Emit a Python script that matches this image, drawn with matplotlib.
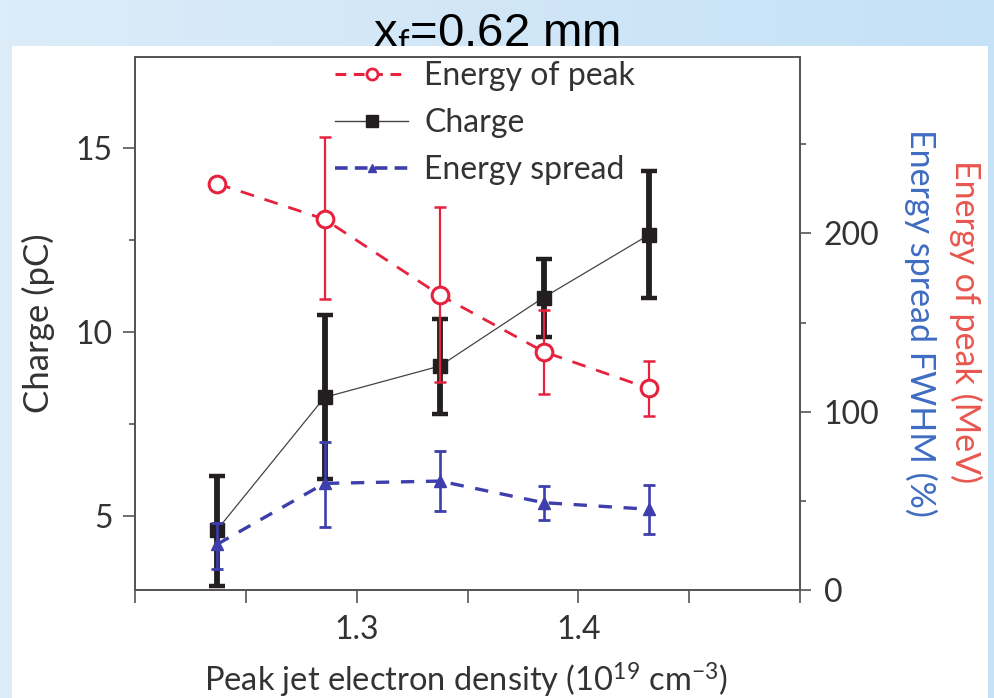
import matplotlib
matplotlib.use("Agg")
import matplotlib.pyplot as plt
import numpy as np
from matplotlib.patches import Rectangle
from matplotlib.lines import Line2D
from matplotlib.ticker import FixedLocator, FuncFormatter
from matplotlib.colors import LinearSegmentedColormap

# ---------------- data ----------------
density = [1.237, 1.2855, 1.3375, 1.3843, 1.4318]

charge = [4.62, 8.22, 9.07, 10.93, 12.63]
charge_low = [3.11, 6.00, 7.77, 9.85, 10.92]
charge_high = [6.09, 10.45, 10.36, 11.98, 14.36]

peak_energy = [228.0, 208.0, 165.5, 133.7, 113.1]
peak_low = [226.5, 163.0, 116.5, 109.8, 97.8]
peak_high = [229.5, 254.0, 215.0, 157.0, 128.6]

spread = [25.6, 59.8, 61.1, 49.0, 45.3]
spread_low = [11.8, 35.5, 44.3, 39.3, 31.4]
spread_high = [37.7, 83.0, 78.1, 58.3, 58.9]

x_ticks = [1.2, 1.25, 1.3, 1.35, 1.4, 1.45, 1.5]
x_labeled = [1.3, 1.4]
left_major = [5, 10, 15]
left_minor = [7.5, 12.5]
right_major = [0, 100, 200]
right_minor = [50, 150, 250]

title = "x$_\\mathrm{f}$=0.62 mm"
xlabel = "Peak jet electron density (10$^{19}$ cm$^{-3}$)"
ylabel_left = "Charge (pC)"
ylabel_right_red = "Energy of peak (MeV)"
ylabel_right_blue = "Energy spread FWHM (%)"
legend_labels = ["Energy of peak", "Charge", "Energy spread"]

# ---------------- style ----------------
FONT = "Lato"
plt.rcParams["font.family"] = [FONT, "DejaVu Sans"]
plt.rcParams["mathtext.fontset"] = "custom"
plt.rcParams["mathtext.rm"] = FONT
plt.rcParams["mathtext.it"] = FONT
plt.rcParams["mathtext.bf"] = FONT

RED = "#e6223f"
BLACK = "#231f20"
BLUE = "#3e3eac"
RED_TXT = "#e8574f"
BLUE_TXT = "#3f6cc2"
TXT = "#333333"
SPINE = "#555555"
FS = 23

W, H = 994, 698
fig = plt.figure(figsize=(W / 100, H / 100), dpi=100)

# background gradient + white panel
bg = fig.add_axes([0, 0, 1, 1], zorder=-10)
grad = np.linspace(0, 1, 256)[None, :]
cmap = LinearSegmentedColormap.from_list("bgc", ["#dcecf9", "#c5e1f6"])
bg.imshow(grad, aspect="auto", cmap=cmap, extent=[0, 1, 0, 1], zorder=0)
bg.set_xlim(0, 1)
bg.set_ylim(0, 1)
bg.axis("off")
bg.text(497 / W, 1 - 47 / H, title, ha="center", va="baseline",
        fontsize=34, family=["Liberation Sans", "DejaVu Sans"], color="black", zorder=1)
bg.add_patch(Rectangle((12 / W, 0), (988 - 12) / W, 1 - 46 / H,
                       facecolor="white", edgecolor="none", zorder=2))

# main axes
L, R, T, B = 135, 800, 57, 590
ax = fig.add_axes([L / W, 1 - B / H, (R - L) / W, (B - T) / H])
ax2 = ax.twinx()

ax.set_xlim(1.2, 1.5)
ax.set_ylim(2.99, 17.46)
ax2.set_ylim(0, 299)

for a in (ax, ax2):
    for s in a.spines.values():
        s.set_color(SPINE)
        s.set_linewidth(1.3)

ax.xaxis.set_major_locator(FixedLocator(x_ticks))
ax.xaxis.set_major_formatter(FuncFormatter(
    lambda v, p: (f"{v:.1f}" if any(abs(v - t) < 1e-9 for t in x_labeled) else "")))
ax.yaxis.set_major_locator(FixedLocator(left_major))
ax.yaxis.set_minor_locator(FixedLocator(left_minor))
ax2.yaxis.set_major_locator(FixedLocator(right_major))
ax2.yaxis.set_minor_locator(FixedLocator(right_minor))

ax.tick_params(axis="x", which="major", direction="out", length=9, width=1.2,
               color=SPINE, labelsize=FS, labelcolor=TXT, pad=9)
ax.tick_params(axis="y", which="major", direction="out", length=9, width=1.2,
               color=SPINE, labelsize=FS, labelcolor=TXT, pad=7)
ax.tick_params(axis="y", which="minor", direction="out", length=4, width=1.2, color=SPINE)
ax2.tick_params(axis="y", which="major", direction="out", length=8, width=1.2,
                color=SPINE, labelsize=FS, labelcolor=TXT, pad=9)
ax2.tick_params(axis="y", which="minor", direction="out", length=4, width=1.2, color=SPINE)

# charge (left axis)
c = np.array(charge)
c_err = [c - np.array(charge_low), np.array(charge_high) - c]
ax.plot(density, charge, color="#444444", lw=0.9, zorder=2)
ax.errorbar(density, charge, yerr=c_err, fmt="none", ecolor=BLACK,
            elinewidth=4.2, capsize=5.8, capthick=3.2, zorder=3)
ax.plot(density, charge, ls="none", marker="s", ms=10, color=BLACK, zorder=4)

# energy of peak (right axis)
pe = np.array(peak_energy)
pe_err = [pe - np.array(peak_low), np.array(peak_high) - pe]
ax2.errorbar(density, peak_energy, yerr=pe_err, fmt="none", ecolor=RED,
             elinewidth=1.6, capsize=4.5, capthick=1.8, zorder=3)
ax2.plot(density, peak_energy, color=RED, lw=2.0, dashes=[5, 4], zorder=2)
ax2.plot(density, peak_energy, ls="none", marker="o", ms=12, mfc="white",
         mec=RED, mew=2.2, zorder=4)

# energy spread (right axis)
sp = np.array(spread)
sp_err = [sp - np.array(spread_low), np.array(spread_high) - sp]
ax2.errorbar(density, spread, yerr=sp_err, fmt="none", ecolor=BLUE,
             elinewidth=1.9, capsize=4.5, capthick=2.0, zorder=3)
ax2.plot(density, spread, color=BLUE, lw=2.4, dashes=[4, 3.5], zorder=2)
ax2.plot(density, spread, ls="none", marker="^", ms=8, color=BLUE, zorder=4)

# legend
handles = [
    Line2D([], [], color=RED, lw=2.2, dashes=[3.5, 2.5], marker="o", ms=8,
           mfc="white", mec=RED, mew=2),
    Line2D([], [], color="#444444", lw=1.0, marker="s", ms=9, mfc=BLACK, mec=BLACK),
    Line2D([], [], color=BLUE, lw=2.6, dashes=[3.5, 2.0], marker="^", ms=6,
           mfc=BLUE, mec=BLUE),
]
leg = ax2.legend(handles, legend_labels, loc="upper left",
                 bbox_to_anchor=(335 / W, 1 - 61 / H), bbox_transform=fig.transFigure,
                 frameon=False, fontsize=FS, handlelength=2.3, handletextpad=0.5,
                 labelspacing=0.53, borderaxespad=0, borderpad=0)
for t in leg.get_texts():
    t.set_color(TXT)

# axis labels
fig.text(466 / W, 1 - 680 / H, xlabel, ha="center", va="center",
         fontsize=FS + 0.5, color=TXT)
fig.text(38 / W, 1 - 323 / H, ylabel_left, ha="center", va="center",
         rotation=90, fontsize=25, color=TXT)
fig.text(966 / W, 1 - 322 / H, ylabel_right_red, ha="center", va="center",
         rotation=270, fontsize=24.5, color=RED_TXT)
fig.text(921 / W, 1 - 323 / H, ylabel_right_blue, ha="center", va="center",
         rotation=270, fontsize=24.5, color=BLUE_TXT)

fig.savefig("out.png", dpi=100)
